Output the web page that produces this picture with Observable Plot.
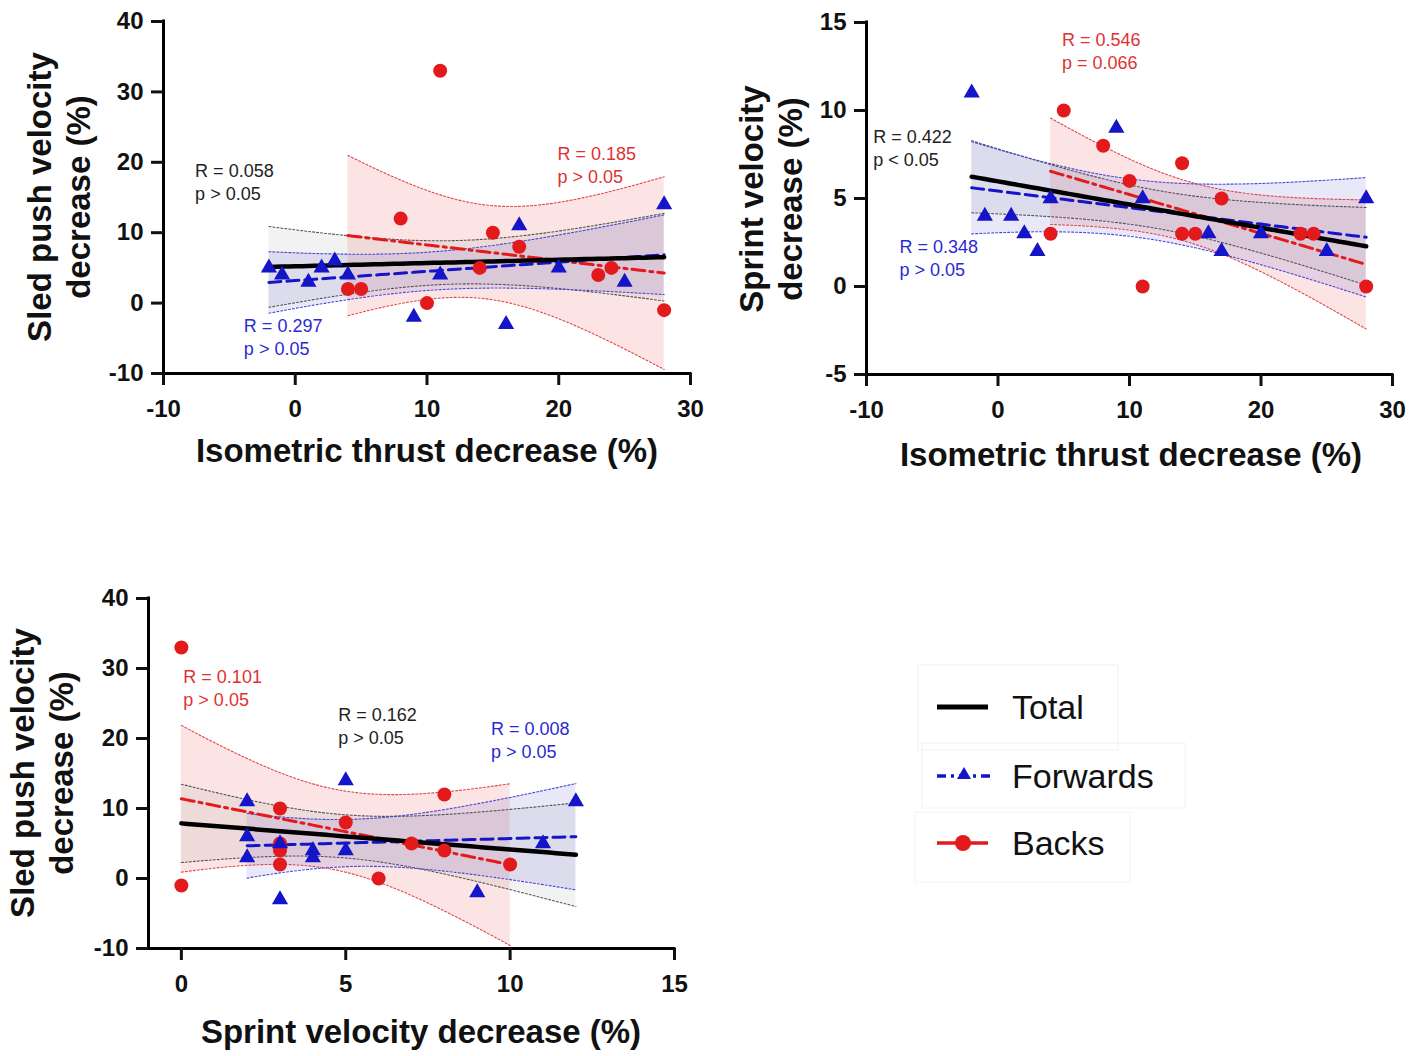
<!DOCTYPE html>
<html><head><meta charset="utf-8">
<script src="https://cdn.jsdelivr.net/npm/d3@7"></script>
<script src="https://cdn.jsdelivr.net/npm/@observablehq/plot@0.6"></script>
<style>
body{margin:0;background:#fff;}
#root{position:relative;width:1422px;height:1056px;overflow:hidden;font-family:"Liberation Sans",Arial,sans-serif;color:#111;}
.panel{position:absolute;}
.xt{position:absolute;font-weight:bold;font-size:33px;transform:translate(-50%,-50%);white-space:nowrap;}
.yt{position:absolute;font-weight:bold;font-size:33px;line-height:39px;text-align:center;white-space:nowrap;transform:translate(-50%,-50%) rotate(-90deg);}
.leg{position:absolute;left:915px;top:663px;width:280px;height:225px;}
.legtxt{position:absolute;left:1012px;font-size:34px;transform:translateY(-50%);white-space:nowrap;color:#111;}
</style></head>
<body><div id="root"></div>
<script>
// ---- Panel A: isometric thrust decrease (x) vs sled push velocity decrease (y)
const isoSledFwdX  = [-2, -1, 1, 2, 3, 4, 9, 11, 16, 17, 20, 25, 28];
const isoSledFwdY  = [ 5,  4, 3, 5, 6, 4, -2, 4, -3, 11, 5, 3, 14];
const isoSledBackX = [4, 5, 8, 10, 11, 14, 15, 17, 23, 24, 28];
const isoSledBackY = [2, 2, 12, 0, 33, 5, 10, 8, 4, 5, -1];
// ---- Panel B: isometric thrust decrease (x) vs sprint velocity decrease (y)
const isoSprintFwdX  = [-2, -1, 1, 2, 3, 4, 9, 11, 16, 17, 20, 25, 28];
const isoSprintFwdY  = [11, 4, 4, 3, 2, 5, 9, 5, 3, 2, 3, 2, 5];
const isoSprintBackX = [4, 5, 8, 10, 11, 14, 14, 15, 17, 23, 24, 28];
const isoSprintBackY = [3, 10, 8, 6, 0, 7, 3, 3, 5, 3, 3, 0];
// ---- Panel C: sprint velocity decrease (x) vs sled push velocity decrease (y)
const sprintSledFwdX  = [2, 2, 2, 3, 3, 4, 4, 5, 5, 9, 11, 12];
const sprintSledFwdY  = [11, 6, 3, 5, -3, 4, 3, 14, 4, -2, 5, 11];
const sprintSledBackX = [0, 0, 3, 3, 3, 3, 5, 6, 7, 8, 8, 10];
const sprintSledBackY = [33, -1, 10, 5, 4, 2, 8, 0, 5, 12, 4, 2];

// ---- axis ticks
const isoTicks = [-10, 0, 10, 20, 30];
const sledTicks = [-10, 0, 10, 20, 30, 40];
const sprintYTicks = [-5, 0, 5, 10, 15];
const sprintXTicks = [0, 5, 10, 15];

// ---- annotation texts
const notesA = [
  {x: -7.6, y: 20.3, t: "R = 0.058\np > 0.05", g: "Total"},
  {x: 19.9, y: 22.7, t: "R = 0.185\np > 0.05", g: "Backs"},
  {x: -3.9, y: -1.8, t: "R = 0.297\np > 0.05", g: "Forwards"}
];
const notesB = [
  {x: 4.86, y: 14.57, t: "R = 0.546\np = 0.066", g: "Backs"},
  {x: -9.49, y: 9.06, t: "R = 0.422\np < 0.05", g: "Total"},
  {x: -7.5, y: 2.81, t: "R = 0.348\np > 0.05", g: "Forwards"}
];
const notesC = [
  {x: 0.06, y: 30.2, t: "R = 0.101\np > 0.05", g: "Backs"},
  {x: 4.77, y: 24.9, t: "R = 0.162\np > 0.05", g: "Total"},
  {x: 9.42, y: 22.8, t: "R = 0.008\np > 0.05", g: "Forwards"}
];

const RED = "#e31a1c", BLUE = "#1414c8";
const textColor = {Total: "#222", Backs: "#e03232", Forwards: "#2a2ad2"};
const FONT = "'Liberation Sans', Arial, sans-serif";

function tq(df) { // 97.5% quantile of Student t (Cornish-Fisher expansion)
  const z = 1.959963985;
  const g1 = (z**3 + z) / 4;
  const g2 = (5*z**5 + 16*z**3 + 3*z) / 96;
  const g3 = (3*z**7 + 19*z**5 + 17*z**3 - 15*z) / 384;
  const g4 = (79*z**9 + 776*z**7 + 1482*z**5 - 1920*z**3 - 945*z) / 92160;
  return z + g1/df + g2/df**2 + g3/df**3 + g4/df**4;
}
function fit(xs, ys) {
  const n = xs.length, mx = d3.mean(xs), my = d3.mean(ys);
  let sxx = 0, sxy = 0;
  xs.forEach((x, i) => { sxx += (x - mx) ** 2; sxy += (x - mx) * (ys[i] - my); });
  const b = sxy / sxx, a = my - b * mx;
  const sse = d3.sum(xs, (x, i) => (ys[i] - a - b * x) ** 2);
  const s = Math.sqrt(sse / (n - 2)), t = tq(n - 2);
  const [x0, x1] = d3.extent(xs);
  return d3.range(0, 61).map(k => {
    const x = x0 + (x1 - x0) * k / 60;
    const yh = a + b * x;
    const h = t * s * Math.sqrt(1 / n + (x - mx) ** 2 / sxx);
    return {x, y: yh, lo: yh - h, hi: yh + h};
  });
}

function panel(cfg) {
  const fwd = cfg.fx.map((x, i) => ({x, y: cfg.fy[i]}));
  const back = cfg.bx.map((x, i) => ({x, y: cfg.by[i]}));
  const allX = cfg.fx.concat(cfg.bx), allY = cfg.fy.concat(cfg.by);
  const fits = {
    Backs: fit(cfg.bx, cfg.by),
    Total: fit(allX, allY),
    Forwards: fit(cfg.fx, cfg.fy)
  };
  const sty = {
    Backs: {fill: "#f07a7a", fo: 0.2, edge: "#e04848", line: RED, dash: "13,5,3,5", w: 3},
    Total: {fill: "#8a8a8a", fo: 0.11, edge: "#555", line: "#000", dash: null, w: 4.5},
    Forwards: {fill: "#5a5ad8", fo: 0.14, edge: "#4848d8", line: BLUE, dash: "12,6", w: 3}
  };
  const marks = [];
  for (const g of ["Backs", "Total", "Forwards"]) {
    marks.push(Plot.areaY(fits[g], {x: "x", y1: "lo", y2: "hi", fill: sty[g].fill, fillOpacity: sty[g].fo}));
  }
  for (const g of ["Backs", "Total", "Forwards"]) {
    marks.push(Plot.line(fits[g], {x: "x", y: "lo", stroke: sty[g].edge, strokeWidth: 1.1, strokeDasharray: "2,2"}));
    marks.push(Plot.line(fits[g], {x: "x", y: "hi", stroke: sty[g].edge, strokeWidth: 1.1, strokeDasharray: "2,2"}));
  }
  for (const g of ["Backs", "Forwards", "Total"]) {
    marks.push(Plot.line(fits[g], {x: "x", y: "y", stroke: sty[g].line, strokeWidth: sty[g].w, strokeDasharray: sty[g].dash}));
  }
  marks.push(Plot.dot(back, {x: "x", y: "y", r: 7, fill: RED, stroke: "none"}));
  marks.push(Plot.dot(fwd, {x: "x", y: "y", r: 6, symbol: "triangle", fill: BLUE, stroke: "none"}));
  marks.push(Plot.text(cfg.notes, {x: "x", y: "y", text: "t", fill: d => textColor[d.g], textAnchor: "start",
    lineAnchor: "top", fontSize: 18, fontWeight: "normal", lineHeight: 1.28}));
  marks.push(Plot.ruleX([cfg.xDomain[0]], {stroke: "#000", strokeWidth: 3, strokeLinecap: "square"}));
  marks.push(Plot.ruleY([cfg.yDomain[0]], {stroke: "#000", strokeWidth: 3, strokeLinecap: "square"}));
  marks.push(Plot.axisX({ticks: cfg.xTicks, tickFormat: d => String(d), tickSize: 12, tickPadding: 14,
    strokeWidth: 3, fontSize: 24, fontWeight: "bold", label: null}));
  marks.push(Plot.axisY({ticks: cfg.yTicks, tickFormat: d => String(d), tickSize: 12, tickPadding: 8,
    strokeWidth: 3, fontSize: 24, fontWeight: "bold", label: null}));
  const svg = Plot.plot({
    width: cfg.width, height: cfg.height,
    marginLeft: cfg.ml, marginRight: cfg.mr, marginTop: cfg.mt, marginBottom: cfg.mb,
    x: {domain: cfg.xDomain, axis: null},
    y: {domain: cfg.yDomain, axis: null},
    style: {fontFamily: FONT, fontWeight: "bold", fontSize: "24px", color: "#111", background: "transparent", overflow: "visible"},
    marks
  });
  svg.classList.add("panel");
  svg.style.left = cfg.left + "px";
  svg.style.top = cfg.top + "px";
  return svg;
}

const root = document.getElementById("root");
root.appendChild(panel({
  fx: isoSledFwdX, fy: isoSledFwdY, bx: isoSledBackX, by: isoSledBackY, notes: notesA,
  xDomain: [-10, 30], yDomain: [-10, 40], xTicks: isoTicks, yTicks: sledTicks,
  left: 0, top: 0, width: 720, height: 420, ml: 163, mr: 30, mt: 21, mb: 47
}));
root.appendChild(panel({
  fx: isoSprintFwdX, fy: isoSprintFwdY, bx: isoSprintBackX, by: isoSprintBackY, notes: notesB,
  xDomain: [-10, 30], yDomain: [-5, 15], xTicks: isoTicks, yTicks: sprintYTicks,
  left: 700, top: 0, width: 722, height: 420, ml: 166, mr: 30, mt: 22, mb: 46
}));
root.appendChild(panel({
  fx: sprintSledFwdX, fy: sprintSledFwdY, bx: sprintSledBackX, by: sprintSledBackY, notes: notesC,
  xDomain: [-1, 15], yDomain: [-10, 40], xTicks: sprintXTicks, yTicks: sledTicks,
  left: 0, top: 580, width: 700, height: 420, ml: 148, mr: 26, mt: 18, mb: 52
}));

// axis titles
function addDiv(cls, html, x, y) {
  const d = document.createElement("div");
  d.className = cls; d.innerHTML = html;
  d.style.left = x + "px"; d.style.top = y + "px";
  root.appendChild(d);
}
addDiv("xt", "Isometric thrust decrease (%)", 427, 451);
addDiv("xt", "Isometric thrust decrease (%)", 1131, 455);
addDiv("xt", "Sprint velocity decrease (%)", 421, 1032);
addDiv("yt", "Sled push velocity<br>decrease (%)", 59, 197);
addDiv("yt", "Sprint velocity<br>decrease (%)", 771, 199);
addDiv("yt", "Sled push velocity<br>decrease (%)", 42, 773);

// legend
const legendKeys = ["Total", "Forwards", "Backs"];
const leg = document.createElement("div");
leg.className = "leg";
leg.innerHTML = `<svg width="280" height="225" style="overflow:visible">
  <rect x="3" y="2" width="200" height="85" fill="none" stroke="#f2f2f2"/>
  <rect x="7" y="80" width="263" height="65" fill="none" stroke="#f2f2f4"/>
  <rect x="0" y="149" width="215" height="70" fill="none" stroke="#f4f4f4"/>
  <line x1="22" x2="73" y1="44" y2="44" stroke="#000" stroke-width="5"/>
  <line x1="22" x2="76" y1="113" y2="113" stroke="${BLUE}" stroke-width="3.5" stroke-dasharray="9,5,3,5"/>
  <path d="M${49},${104} l7,12 l-14,0 z" fill="${BLUE}"/>
  <line x1="22" x2="73" y1="180" y2="180" stroke="${RED}" stroke-width="3.5"/>
  <circle cx="48" cy="180" r="8" fill="${RED}"/>
</svg>`;
root.appendChild(leg);
const legY = [707, 776, 843];
legendKeys.forEach((k, i) => {
  const d = document.createElement("div");
  d.className = "legtxt"; d.textContent = k; d.style.top = legY[i] + "px";
  root.appendChild(d);
});
</script>
</body></html>
